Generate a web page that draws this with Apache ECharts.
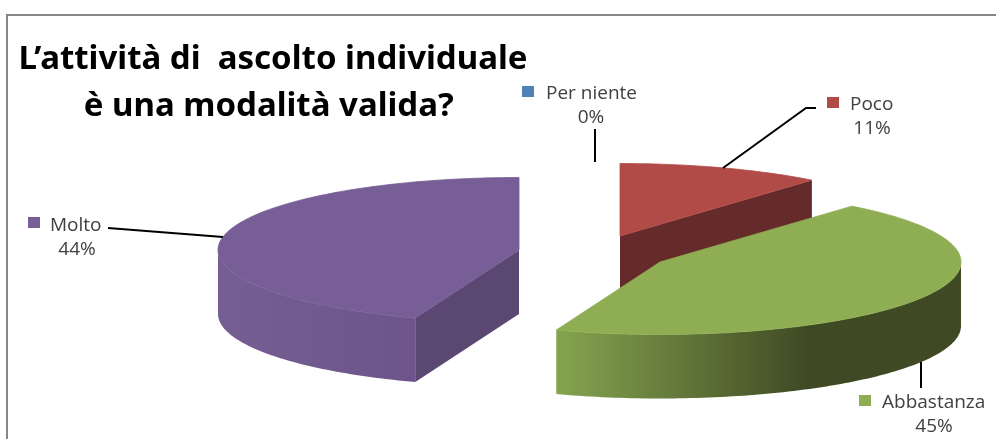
<!DOCTYPE html>
<html><head><meta charset="utf-8">
<style>html,body{margin:0;padding:0;background:#fff}#c{width:996px;height:439px}</style>
<script src="https://cdn.jsdelivr.net/npm/echarts@6/dist/echarts.min.js"></script>
</head><body><div id="c"></div>
<script>
// Data
var categories = ['Per niente', 'Poco', 'Abbastanza', 'Molto'];
var values = [0, 11, 44.6, 44.4];
var titleLines = ['L’attività di  ascolto individuale', 'è una modalità valida? '];

// Styling and layout
var topColors  = ['#4f81bd', '#b14b48', '#8fae54', '#775e96'];
var wallColors = ['#3a5f8c', '#652a2a', '#3f4a24', '#5a4772'];
var rimStops = [
  [[0,'#4f81bd'],[1,'#3a5f8c']],
  [[0,'#b14b48'],[1,'#652a2a']],
  [[0,'#86a44f'],[0.62,'#3f4a24'],[1,'#3f4a24']],
  [[0,'#755e92'],[1,'#6d558b']]
];
var centers = [[595,236],[620,236],[660,262],[519,250]];
var rx = 301, ry = 72.5, depth = 64;
var labelPos = [
  {sq:[522,86], name:[546,92],  pct:[591,117]},
  {sq:[827,97], name:[850,103], pct:[872,128]},
  {sq:[859,395],name:[882,401], pct:[934,426]},
  {sq:[28,217], name:[50,224],  pct:[77,249]}
];
var leaders = [
  [[595,129],[595,162]],
  [[723,168],[806,108],[816,108]],
  [[921,362],[921,388]],
  [[108,228],[223,237]]
];
var labelFont = '19px "Open Sans"';
var labelColor = '#404040';
// Paint order: back slices first, the front slice over them
var paintOrder = [0, 1, 3, 2];

var total = values.reduce(function (a, b) { return a + b; }, 0);
var starts = [];
values.reduce(function (acc, v, i) { starts[i] = acc; return acc + v; }, 0);

function toAngle(v) { return v / total * 2 * Math.PI; }
function arc(c, a0, a1, dy) {
  var pts = [], n = Math.max(2, Math.ceil((a1 - a0) / 0.02));
  for (var k = 0; k <= n; k++) {
    var a = a0 + (a1 - a0) * k / n;
    pts.push([c[0] + rx * Math.sin(a), c[1] - ry * Math.cos(a) + dy]);
  }
  return pts;
}
function poly(points, fill) {
  return {type: 'polygon', shape: {points: points}, style: {fill: fill}};
}
function wall(c, a, fill) {
  var p = arc(c, a, a, 0)[0];
  return poly([c, p, [p[0], p[1] + depth], [c[0], c[1] + depth]], fill);
}
function renderSlice(params, api) {
  var i = api.value(0), v = api.value(1);
  var a0 = toAngle(starts[i]), a1 = a0 + toAngle(v), c = centers[i];
  var kids = [];
  if (v > 0) {
    // outer rim: only the front half faces the viewer
    var r0 = Math.max(a0, Math.PI / 2), r1 = Math.min(a1, 1.5 * Math.PI);
    if (r1 > r0) {
      kids.push(poly(arc(c, r0, r1, 0).concat(arc(c, r0, r1, depth).reverse()),
        new echarts.graphic.LinearGradient(0, 0, 1, 0, rimStops[i].map(function (s) {
          return {offset: s[0], color: s[1]};
        }))));
    }
    // cut faces that turn towards the viewer
    if (Math.sin(a0) < -1e-6) kids.push(wall(c, a0, wallColors[i]));
    if (Math.sin(a1) > 1e-6) kids.push(wall(c, a1, wallColors[i]));
    // top face, stroked in its own colour to close the seam with the rim
    var face = poly([c].concat(arc(c, a0, a1, 0)), topColors[i]);
    face.style.stroke = topColors[i];
    face.style.lineWidth = 0.8;
    kids.push(face);
  }
  // leader line
  kids.push({type: 'polyline', shape: {points: leaders[i]},
    style: {stroke: '#000', lineWidth: 2, fill: null}});
  // legend key and label
  var lp = labelPos[i];
  kids.push({type: 'rect', shape: {x: lp.sq[0], y: lp.sq[1], width: 12, height: 11},
    style: {fill: topColors[i]}});
  kids.push({type: 'text', x: lp.name[0], y: lp.name[1] + 1.5,
    style: {text: categories[i], font: labelFont, fill: labelColor, textAlign: 'left', textVerticalAlign: 'middle'}});
  kids.push({type: 'text', x: lp.pct[0], y: lp.pct[1] + 1,
    style: {text: Math.round(v) + '%', font: labelFont, fill: labelColor, textAlign: 'center', textVerticalAlign: 'middle'}});
  return {type: 'group', children: kids};
}

var chart = echarts.init(document.getElementById('c'), null, {renderer: 'canvas'});
chart.setOption({
  backgroundColor: '#fff',
  animation: false,
  title: {
    text: titleLines.join('\n'),
    left: 268, top: 31, textAlign: 'center',
    textStyle: {fontFamily: '"Noto Sans"', fontWeight: 'bold', fontSize: 33, lineHeight: 47, color: '#000'}
  },
  graphic: [{type: 'rect', shape: {x: 7, y: 15, width: 1200, height: 600},
    style: {fill: 'none', stroke: '#868686', lineWidth: 2}, silent: true}],
  series: [{
    type: 'custom', coordinateSystem: 'none', silent: true,
    renderItem: renderSlice,
    data: paintOrder.map(function (j) { return [j, values[j]]; })
  }]
});
</script></body></html>
